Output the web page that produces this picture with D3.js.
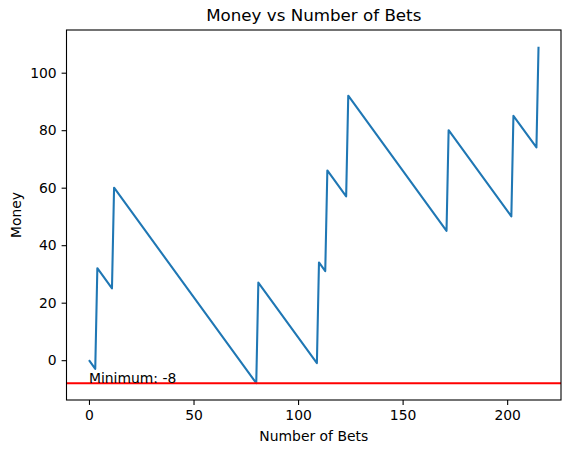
<!DOCTYPE html>
<html>
<head>
<meta charset="utf-8">
<script src="https://cdn.jsdelivr.net/npm/d3@7"></script>
<style>
  body { margin: 0; background: #fff; }
  svg text { font-family: "DejaVu Sans", sans-serif; fill: #000; }
</style>
</head>
<body>
<div class="chart"></div>
<script>
// vertices of the money line (bet number, money)
var bets  = [0, 3, 4, 11, 12, 80, 81, 109, 110, 113, 114, 123, 124, 171, 172, 202, 203, 214, 215];
var money = [0, -3, 32, 25, 60, -8, 27, -1, 34, 31, 66, 57, 92, 45, 80, 50, 85, 74, 109];
var minimum = -8;
var xTicks = [0, 50, 100, 150, 200];
var yTicks = [0, 20, 40, 60, 80, 100];

var width = 571,
    height = 453,
    margin = {left: 66.5, right: 10, top: 30, bottom: 53};

var svg = d3.select(".chart").append("svg")
    .attr("width", width)
    .attr("height", height);

// matplotlib style 5% padding
var xMin = d3.min(bets), xMax = d3.max(bets),
    yMin = Math.min(d3.min(money), minimum), yMax = d3.max(money);
var xPad = (xMax - xMin) * 0.05, yPad = (yMax - yMin) * 0.05;

var x = d3.scaleLinear()
    .domain([xMin - xPad, xMax + xPad])
    .range([margin.left, width - margin.right]);

var y = d3.scaleLinear()
    .domain([yMin - yPad, yMax + yPad])
    .range([height - margin.bottom, margin.top]);

var pts = bets.map(function(b, i) { return [b, money[i]]; });

var line = d3.line()
    .x(function(d) { return x(d[0]); })
    .y(function(d) { return y(d[1]); });

svg.append("path")
    .attr("d", line(pts))
    .attr("fill", "none")
    .attr("stroke", "#1f77b4")
    .attr("stroke-width", 2.08)
    .attr("stroke-linejoin", "round");

// minimum line
svg.append("line")
    .attr("x1", x.range()[0]).attr("x2", x.range()[1])
    .attr("y1", y(minimum)).attr("y2", y(minimum))
    .attr("stroke", "#ff0000")
    .attr("stroke-width", 2.08);

svg.append("text")
    .attr("x", x(0))
    .attr("y", y(minimum))
    .style("font-size", "13.9px")
    .text("Minimum: " + minimum);

// axes
var xAxis = svg.append("g")
    .attr("transform", "translate(0," + (height - margin.bottom) + ")")
    .call(d3.axisBottom(x).tickValues(xTicks).tickSize(4.9).tickPadding(4.9).tickSizeOuter(0));
var yAxis = svg.append("g")
    .attr("transform", "translate(" + margin.left + ",0)")
    .call(d3.axisLeft(y).tickValues(yTicks).tickSize(4.9).tickPadding(4.9).tickSizeOuter(0));

svg.selectAll(".tick text")
    .style("font-family", "DejaVu Sans, sans-serif")
    .style("font-size", "13.9px");
svg.selectAll(".tick line").attr("stroke-width", 1.1);
svg.selectAll(".domain").remove();

// frame
svg.append("rect")
    .attr("x", margin.left)
    .attr("y", margin.top)
    .attr("width", width - margin.right - margin.left)
    .attr("height", height - margin.bottom - margin.top)
    .attr("fill", "none")
    .attr("stroke", "#000")
    .attr("stroke-width", 1.1);

svg.append("text")
    .attr("x", (x.range()[0] + x.range()[1]) / 2)
    .attr("y", 21)
    .attr("text-anchor", "middle")
    .style("font-size", "16.7px")
    .text("Money vs Number of Bets");

svg.append("text")
    .attr("x", (x.range()[0] + x.range()[1]) / 2)
    .attr("y", 441)
    .attr("text-anchor", "middle")
    .style("font-size", "13.9px")
    .text("Number of Bets");

svg.append("text")
    .attr("transform", "translate(21," + ((y.range()[0] + y.range()[1]) / 2) + ")rotate(-90)")
    .attr("text-anchor", "middle")
    .style("font-size", "13.9px")
    .text("Money");
</script>
</body>
</html>
